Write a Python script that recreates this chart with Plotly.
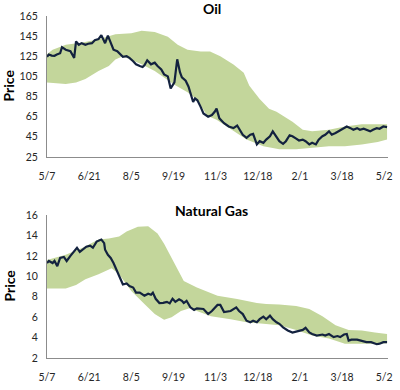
import pandas as pd
import plotly.graph_objects as go

start_date = "2008-05-07"

# ---- Oil: daily price line (day offset from start, price) ----
oil_day = [0, 2, 5, 8, 10.5, 14, 16, 20, 25, 29, 31, 34, 37, 41, 44, 48, 51, 55, 58, 62,
           65, 68, 71, 75, 78, 81, 85, 88, 92, 95, 99, 102, 104, 107, 111, 115, 118, 122, 125, 129,
           132, 136, 139, 142, 144, 148, 151, 153, 156, 158, 160.5, 164, 167, 172, 176, 179, 181, 184, 189, 194,
           199, 203, 206, 209, 213, 217, 220, 224, 227, 231, 234, 238, 241, 245, 248, 252, 255, 259, 262, 266,
           269, 273, 276, 280, 283, 287, 290, 294, 297, 301, 304, 308, 311, 315, 320, 324, 327, 331, 334, 338,
           341, 345, 348, 352, 355, 359, 363]
oil_price = [124.4, 126.7, 125.7, 125.5, 126.7, 128, 134, 131.5, 130, 123.4, 139.7, 136.4, 138, 136.4, 137.4, 138, 141, 142, 146, 138,
             145.5, 139, 131.5, 130, 126.7, 124.4, 125, 123.4, 120, 117, 115.3, 114.3, 116, 121, 117, 118.6, 115.3, 112, 107, 105,
             93, 99, 122, 109, 104, 100.7, 95, 88.7, 79.6, 83, 81.2, 74.7, 68.2, 65, 66.6, 69.8, 73, 63.3, 58.5, 55.2,
             53.6, 56.2, 52, 47, 43.9, 47, 47.8, 37.4, 40.6, 39, 42.2, 45.5, 50.4, 45.5, 40.6, 38, 40.6, 46.5, 45.5, 43.2,
             41.3, 42.2, 40.6, 37.4, 39, 37.4, 42.2, 45.5, 47, 50.4, 47, 48.7, 50.4, 52, 55.2, 53.6, 52, 53.6, 52, 53,
             52, 50.4, 52, 53.6, 53, 55.2, 54.6]

# Oil band
oil_upper_day = [0, 6, 20, 38, 55, 73, 90, 101, 115, 129, 139.5, 150, 164, 174, 185, 199, 210, 216, 227,
                 237, 245, 262, 273, 283, 301, 318, 336, 353, 363]
oil_upper = [127, 131.5, 136.4, 138.7, 142, 146.8, 147.8, 150.4, 149, 144.5, 136.4, 131.5, 129.8, 129.8, 125, 116.8, 108.7, 95.6, 82.6,
             72.9, 69.8, 60, 52, 50.4, 52, 55.2, 57.5, 57.8, 57.5]
oil_lower_day = [0, 20, 31, 41, 55, 66, 73, 81, 90, 101, 115, 125, 136, 150, 160, 171, 181, 196, 213, 231,
                 248, 266, 283, 301, 318, 336, 353, 363]
oil_lower = [99, 97.4, 99, 102.3, 110.4, 115.3, 121.8, 125, 121.8, 117, 110.4, 104, 96.8, 89.2, 82, 66, 62, 53, 42.2, 35.7,
             32.5, 32.5, 34, 35.7, 35.7, 37.4, 39.9, 42.2]

# ---- Natural gas ----
gas_day = [0, 2, 6, 8, 11, 14, 18, 21, 25, 28, 32, 35, 39, 42, 46, 49, 53, 58, 61, 62,
           65, 68, 71, 75, 78, 81, 85, 88, 92, 95, 99, 102, 104, 108, 111, 113, 116, 120, 124, 128,
           131, 134, 137, 141, 144, 146, 149, 153, 157, 160, 167, 172, 176, 182, 185, 189, 196, 202, 205, 209,
           213, 217, 220, 224, 227, 231, 234, 238, 241, 245, 248, 252, 257, 262, 267, 273, 276, 280, 283, 288,
           294, 297, 301, 306, 310, 313, 317, 320, 322, 325, 331, 336, 341, 346, 352, 355, 359, 363]
gas_price = [11.3, 11.5, 11.3, 11.5, 11.0, 11.8, 11.9, 11.5, 12.0, 12.3, 12.8, 12.4, 12.7, 12.9, 13.0, 12.8, 13.4, 13.6, 13.25, 12.6,
             12.1, 11.8, 11.3, 10.5, 9.85, 9.2, 9.3, 9.05, 8.9, 8.4, 8.4, 8.25, 8.1, 8.3, 8.2, 8.4, 7.8, 7.38, 7.4, 7.5,
             7.35, 7.8, 7.5, 7.75, 7.6, 7.38, 7.6, 6.96, 6.7, 6.86, 6.8, 6.3, 6.6, 7.2, 7.2, 6.5, 6.6, 6.96, 6.6, 6.3,
             5.65, 5.5, 5.65, 5.5, 5.8, 6.05, 5.8, 6.15, 5.8, 5.5, 5.35, 5.0, 4.7, 4.5, 4.6, 4.75, 4.95, 4.5, 4.35, 4.2,
             4.3, 4.2, 4.35, 4.05, 4.15, 4.05, 4.3, 4.35, 3.7, 3.8, 3.8, 3.65, 3.55, 3.55, 3.35, 3.4, 3.55, 3.55]

gas_upper_day = [0, 20, 38, 55, 66, 77, 85, 97, 108, 118, 125, 132, 140, 146, 160, 182, 203, 224, 234, 248,
                 266, 280, 294, 308, 322, 336, 350, 363]
gas_upper = [11.6, 12.1, 12.8, 13.6, 13.7, 13.9, 14.4, 14.85, 14.9, 14.2, 13.2, 11.95, 10.66, 9.53, 8.9, 8.1, 7.77, 7.38, 7.3, 7.25,
             7.1, 6.8, 6.1, 5.2, 4.75, 4.7, 4.5, 4.35]
gas_lower_day = [0, 20, 31, 41, 55, 69, 77, 90, 104, 115, 125, 133, 143, 153, 160, 175, 196, 213, 231, 248,
                 266, 283, 301, 318, 336, 353, 363]
gas_lower = [8.8, 8.8, 9.15, 9.7, 10.2, 10.8, 10.2, 8.55, 7.3, 6.3, 5.75, 6.0, 6.6, 6.9, 6.6, 6.1, 5.8, 5.5, 5.35, 5.2,
             4.75, 4.2, 3.9, 3.4, 3.4, 3.4, 3.45]

titles = ["Oil", "Natural Gas"]
y_ranges = [[25, 165], [2, 16]]
y_dticks = [20, 2]

base = pd.Timestamp(start_date)


def to_dates(days):
    return [base + pd.Timedelta(days=d) for d in days]


BAND = "#C3D69B"
LINE = "#13223F"
FONT = "Lato, 'Liberation Sans', sans-serif"

fig = go.Figure()

panels = [
    (oil_day, oil_price, oil_upper_day, oil_upper, oil_lower_day, oil_lower),
    (gas_day, gas_price, gas_upper_day, gas_upper, gas_lower_day, gas_lower),
]

for i, (d, p, ud, u, ld, lo) in enumerate(panels):
    xa = "x" if i == 0 else "x2"
    ya = "y" if i == 0 else "y2"
    band_x = to_dates(ud) + to_dates(ld)[::-1]
    band_y = list(u) + list(lo)[::-1]
    fig.add_trace(go.Scatter(x=band_x, y=band_y, fill="toself", fillcolor=BAND,
                             mode="lines", line=dict(width=0, color=BAND),
                             hoverinfo="skip", showlegend=False, xaxis=xa, yaxis=ya))
    fig.add_trace(go.Scatter(x=to_dates(d), y=p, mode="lines",
                             line=dict(color=LINE, width=2.2),
                             showlegend=False, xaxis=xa, yaxis=ya))

x_range = [base, base + pd.Timedelta(days=364)]
axis_common = dict(showgrid=False, zeroline=False, showline=True, linecolor="#8C8C8C",
                   linewidth=1, tickfont=dict(family=FONT, size=10.5, color="#262626"))

xcommon = dict(axis_common, type="date", range=x_range, tick0=base,
               dtick=45 * 86400000, tickformat="%-m/%-d", ticks="", ticklabelstandoff=9)
ycommon = dict(axis_common, ticks="", ticklabelstandoff=6)

top_dom = [0.588, 1.0]
bot_dom = [0.0, 0.418]

fig.update_layout(
    width=400, height=390,
    margin=dict(l=47, r=7, t=16, b=27),
    paper_bgcolor="white", plot_bgcolor="white",
    font=dict(family=FONT),
    xaxis=dict(xcommon, domain=[0, 1], anchor="y"),
    yaxis=dict(ycommon, domain=top_dom, range=y_ranges[0], dtick=y_dticks[0], tick0=25, anchor="x"),
    xaxis2=dict(xcommon, domain=[0, 1], anchor="y2"),
    yaxis2=dict(ycommon, domain=bot_dom, range=y_ranges[1], dtick=y_dticks[1], tick0=2, anchor="x2"),
)

# titles
title_y_px = [8, 213]
price_y_px = [87, 290]
for i in range(2):
    fig.add_annotation(text=f"<b>{titles[i]}</b>", xref="paper", yref="paper",
                       x=(214 - 47) / 346, y=(363 - title_y_px[i]) / 347,
                       xanchor="center", yanchor="middle", showarrow=False,
                       font=dict(family=FONT, size=14, color="#000000"))
    fig.add_annotation(text="<b>Price</b>", xref="paper", yref="paper",
                       x=(8 - 47) / 346, y=(363 - price_y_px[i]) / 347,
                       xanchor="center", yanchor="middle", textangle=-90, showarrow=False,
                       font=dict(family=FONT, size=14, color="#000000"))

fig.write_html("out.html", config={"displayModeBar": False},
               post_script="document.body.style.margin='0px';")
